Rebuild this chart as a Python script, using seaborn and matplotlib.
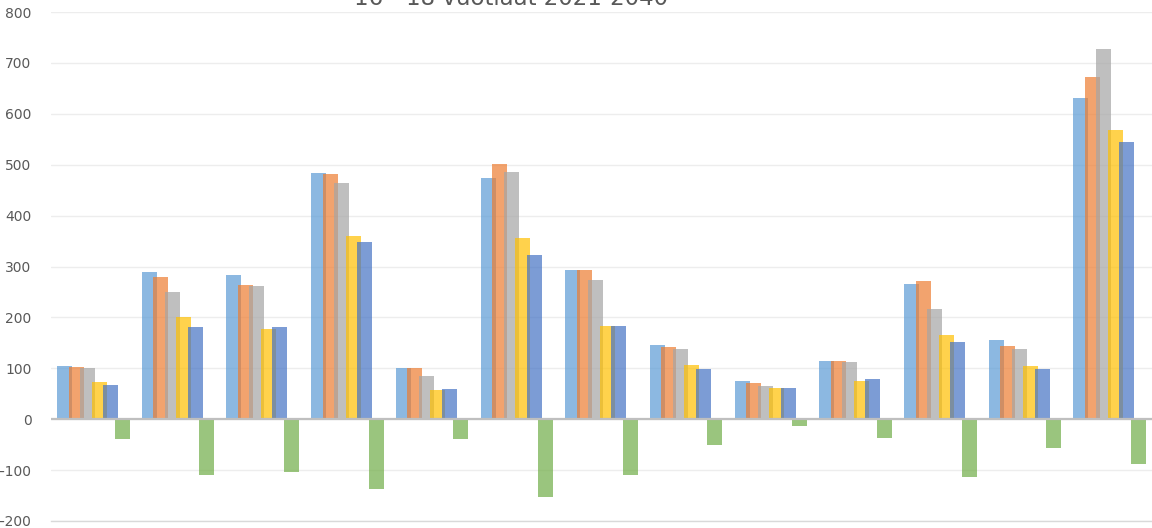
import numpy as np
import pandas as pd
import matplotlib
matplotlib.use("Agg")
import matplotlib.pyplot as plt
import seaborn as sns

categories = ["A", "B", "C", "D", "E", "F", "G", "H", "I", "J", "K", "L", "M"]
series = ["2021", "2025", "2030", "2035", "2040", "Muutos"]

v2021 = [105, 289, 284, 483, 100, 474, 294, 145, 75, 114, 265, 156, 632]
v2025 = [102, 280, 264, 482, 100, 502, 294, 141, 71, 114, 271, 144, 672]
v2030 = [100, 250, 262, 464, 84, 486, 274, 138, 66, 112, 217, 138, 727]
v2035 = [73, 200, 177, 360, 57, 356, 183, 107, 62, 76, 166, 105, 568]
v2040 = [67, 181, 181, 348, 60, 323, 183, 98, 61, 78, 151, 99, 544]
muutos = [-39, -109, -104, -137, -38, -153, -110, -50, -14, -36, -114, -57, -88]

colors = ["#5B9BD5", "#ED7D31", "#A5A5A5", "#FFC000", "#4472C4", "#70AD47"]

df = pd.DataFrame({
    "Alue": categories * 6,
    "Sarja": np.repeat(series, len(categories)),
    "Arvo": v2021 + v2025 + v2030 + v2035 + v2040 + muutos,
})

sns.set_style("white")
plt.rcParams["font.family"] = ["DejaVu Sans"]

fig = plt.figure(figsize=(11.52, 5.28), dpi=100)
ax = fig.add_axes([51 / 1152, 7 / 528, 1 - 51 / 1152, 509 / 528])

sns.barplot(data=df, x="Alue", y="Arvo", hue="Sarja", order=categories,
            hue_order=series, palette=colors, saturation=1, width=0.815,
            alpha=0.7, linewidth=0, legend=False, ax=ax)

# excel-style overlap: widen bars around their centres
for p in ax.patches:
    c = p.get_x() + p.get_width() / 2
    p.set_width(0.177)
    p.set_x(c - 0.177 / 2)

ax.set_ylim(-200, 800)
ax.set_yticks(range(-200, 801, 100))
ax.set_xlim(-0.5, 12.5)
ax.set_xticks(np.arange(-0.5, 13, 1))
ax.set_xticklabels([])
ax.set_xlabel("")
ax.set_ylabel("")

ax.grid(axis="y", color="#EDEDED", lw=1)
ax.set_axisbelow(True)
ax.axhline(0, color="#BFBFBF", lw=1.6, zorder=5)

for s in ["top", "right", "left"]:
    ax.spines[s].set_visible(False)
ax.spines["bottom"].set_color("#D9D9D9")
ax.spines["bottom"].set_linewidth(1)

ax.tick_params(axis="y", length=0, pad=14, labelsize=10, labelcolor="#595959")
ax.tick_params(axis="x", length=12, width=1, color="#D9D9D9", direction="out")

fig.text(0.444, 1 - 5 / 528, "16 - 18 vuotiaat 2021-2040", ha="center",
         va="baseline", fontsize=16.5, color="#595959")

fig.savefig("out.png", dpi=100)
